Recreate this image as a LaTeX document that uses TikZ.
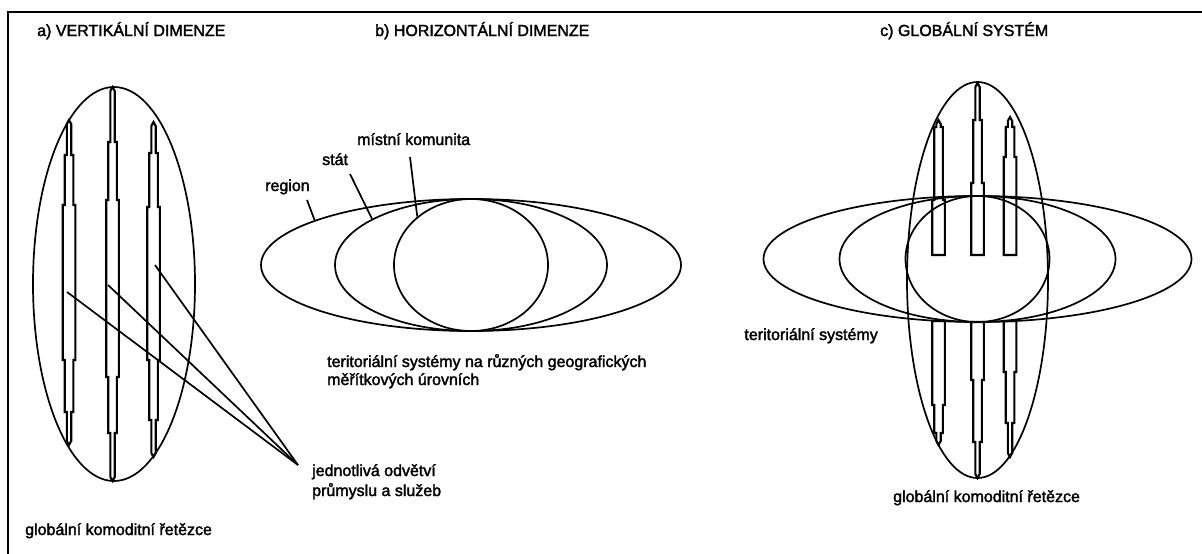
\documentclass[tikz,border=0pt]{standalone}
\usepackage{fontspec}
\setmainfont{Liberation Sans}
\newfontfamily\lblfont{Liberation Sans}[FakeBold=2]
\usetikzlibrary{shapes.geometric}
% full rod: x, top tip, narrow->medium, medium->wide, wide->medium, medium->narrow, bottom tip
\newcommand{\fullrod}[7]{%
\draw[rodline] (#1,#2) -- ({#1+2.2},{#2+4}) -- ({#1+2.2},#3) -- ({#1+4.3},#3) -- ({#1+4.3},#4) -- ({#1+6.3},#4) -- ({#1+6.3},#5) -- ({#1+4.3},#5) -- ({#1+4.3},#6) -- ({#1+2.2},#6) -- ({#1+2.2},{#7-4}) -- (#1,#7) -- ({#1-2.2},{#7-4}) -- ({#1-2.2},#6) -- ({#1-4.3},#6) -- ({#1-4.3},#5) -- ({#1-6.3},#5) -- ({#1-6.3},#4) -- ({#1-4.3},#4) -- ({#1-4.3},#3) -- ({#1-2.2},#3) -- ({#1-2.2},{#2+4}) -- cycle;}
% upper rod: x, top tip, narrow->medium, medium->wide, flat bottom
\newcommand{\upperrod}[5]{%
\draw[rodline] (#1,#2) -- ({#1+2.2},{#2+4}) -- ({#1+2.2},#3) -- ({#1+4.3},#3) -- ({#1+4.3},#4) -- ({#1+6.3},#4) -- ({#1+6.3},#5) -- ({#1-6.3},#5) -- ({#1-6.3},#4) -- ({#1-4.3},#4) -- ({#1-4.3},#3) -- ({#1-2.2},#3) -- ({#1-2.2},{#2+4}) -- cycle;}
% lower rod: x, flat top, wide->medium, medium->narrow, bottom tip
\newcommand{\lowerrod}[5]{%
\draw[rodline] ({#1-6.3},#2) -- ({#1+6.3},#2) -- ({#1+6.3},#3) -- ({#1+4.3},#3) -- ({#1+4.3},#4) -- ({#1+2.2},#4) -- ({#1+2.2},{#5-4}) -- (#1,#5) -- ({#1-2.2},{#5-4}) -- ({#1-2.2},#4) -- ({#1-4.3},#4) -- ({#1-4.3},#3) -- ({#1-6.3},#3) -- cycle;}
\begin{document}
\begin{tikzpicture}[x=1pt,y=-1pt,
  ell/.style={draw, ellipse, inner sep=0pt, line width=1.7pt},
  rodline/.style={line width=2.1pt, line join=miter},
  lead/.style={line width=1.7pt},
  txt/.style={font=\lblfont\fontsize{16}{18}\selectfont, inner sep=0pt, anchor=base west},
  frameline/.style={line width=2pt}]
\useasboundingbox (0,0) rectangle (1202,554);
\fill[white] (0,0) rectangle (1202,554);
% frame
\coordinate (fbl) at (8,554);
\coordinate (ftl) at (8,12);
\coordinate (ftr) at (1202,12);
\draw[frameline] (fbl) -- (ftl) -- (ftr);

% titles
\node[txt] (ta) at (37,36) {a) VERTIKÁLNÍ DIMENZE};
\node[txt] (tb) at (375,36) {b) HORIZONTÁLNÍ DIMENZE};
\node[txt] (tc) at (880,36) {c) GLOBÁLNÍ SYSTÉM};

% ---------- panel a ----------
\node[ell, minimum width=162pt, minimum height=394pt] (va) at (114,284) {};
\fullrod{69}{120}{155}{205}{360}{412}{445}
\fullrod{112.5}{87}{142}{200}{377}{433}{481}
\fullrod{153.5}{122}{153}{207}{360}{420}{457}
\coordinate (s1) at (67,292);
\coordinate (s2) at (108,285);
\coordinate (s3) at (155,265);
\coordinate (conv) at (298,465);
\draw[lead] (s1) -- (conv);
\draw[lead] (s2) -- (conv);
\draw[lead] (s3) -- (conv);
\node[txt] (odv1) at (312,476) {jednotlivá odvětví};
\node[txt] (odv2) at (312,496) {průmyslu a služeb};
\node[txt] (gka) at (25,535) {globální komoditní řetězce};

% ---------- panel b ----------
\node[ell, minimum width=420pt, minimum height=132pt] (regb) at (471,265) {};
\node[ell, minimum width=272pt, minimum height=132pt] (statb) at (471,265) {};
\node[ell, minimum width=154pt, minimum height=132pt] (komb) at (471,265) {};
\node[txt] (lreg) at (265,191) {region};
\node[txt] (lstat) at (322,165) {stát};
\node[txt] (lkom) at (357,145) {místní komunita};
\coordinate (preg) at (307,200);
\coordinate (pstat) at (350,174);
\coordinate (pkom) at (410,157);
\draw[lead] (preg) -- (regb.164);
\draw[lead] (pstat) -- (statb.155);
\draw[lead] (pkom) -- (komb.138);
\node[txt] (ter1) at (327,367) {teritoriální systémy na různých geografických};
\node[txt] (ter2) at (327,385) {měřítkových úrovních};

% ---------- panel c ----------
\node[ell, minimum width=141pt, minimum height=396pt] (vc) at (977.5,280) {};
\node[ell, minimum width=428pt, minimum height=126pt] (hc1) at (977.5,259) {};
\node[ell, minimum width=276pt, minimum height=126pt] (hc2) at (977.5,259) {};
\node[ell, minimum width=144pt, minimum height=126pt] (hc3) at (977.5,259) {};
\upperrod{938.5}{120}{127}{200}{255}
\upperrod{977.5}{83}{120}{183}{255}
\upperrod{1010}{117}{127}{157}{255}
\lowerrod{938.5}{321}{405}{433}{445}
\lowerrod{977.5}{322}{380}{442}{478}
\lowerrod{1010}{321}{372}{423}{457}
\node[txt, anchor=base east] (terc) at (878,340) {teritoriální systémy};
\node[txt] (gkc) at (893,502) {globální komoditní řetězce};
\end{tikzpicture}
\end{document}
